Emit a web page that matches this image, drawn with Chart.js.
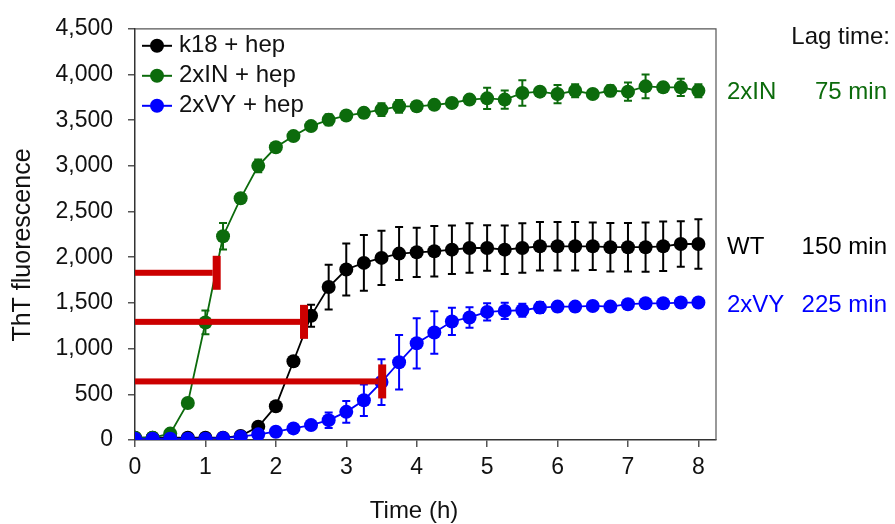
<!DOCTYPE html>
<html>
<head>
<meta charset="utf-8">
<script src="https://cdn.jsdelivr.net/npm/chart.js@4.4.1/dist/chart.umd.min.js"></script>
<style>
  html, body { margin: 0; padding: 0; background: #fff; }
</style>
</head>
<body>
<canvas id="thtChart" width="895" height="524"></canvas>
<script>
// time points (h)
const times = [0, 0.25, 0.5, 0.75, 1, 1.25, 1.5, 1.75, 2, 2.25, 2.5, 2.75, 3, 3.25, 3.5, 3.75,
               4, 4.25, 4.5, 4.75, 5, 5.25, 5.5, 5.75, 6, 6.25, 6.5, 6.75, 7, 7.25, 7.5, 7.75, 8];

const k18 = [25, 25, 25, 25, 25, 25, 45, 145, 370, 862, 1359, 1674, 1866, 1938, 1993, 2040,
             2054, 2065, 2083, 2101, 2101, 2083, 2101, 2120, 2120, 2120, 2120, 2110, 2110, 2110, 2120, 2145, 2145];
const k18Err = [0, 0, 0, 0, 0, 0, 0, 20, 20, 30, 120, 245, 285, 305, 297, 290,
                270, 277, 265, 272, 250, 265, 270, 265, 265, 265, 260, 265, 265, 270, 270, 250, 270];

const twoIN = [25, 25, 70, 405, 1286, 2230, 2645, 3000, 3203, 3326, 3435, 3504, 3551, 3580, 3616, 3652,
               3652, 3668, 3688, 3725, 3739, 3725, 3797, 3812, 3786, 3822, 3786, 3822, 3812, 3870, 3859, 3859, 3822];
const twoINErr = [0, 0, 0, 30, 130, 145, 50, 70, 40, 30, 40, 60, 50, 50, 70, 70,
                  40, 40, 40, 40, 116, 100, 140, 40, 100, 70, 40, 60, 100, 130, 50, 95, 70];

const twoVY = [15, 15, 15, 15, 15, 22, 36, 62, 91, 127, 163, 217, 308, 435, 634, 851,
               1058, 1177, 1297, 1341, 1402, 1413, 1420, 1449, 1460, 1460, 1467, 1460, 1486, 1496, 1496, 1504, 1504];
const twoVYErr = [0, 0, 0, 0, 0, 0, 0, 0, 10, 15, 20, 85, 118, 172, 250, 297,
                  275, 232, 149, 112, 94, 90, 70, 60, 50, 50, 40, 50, 40, 40, 40, 40, 30];

// lag time markers
const lagNames = ['2xIN', 'WT', '2xVY'];
const lagMinutes = ['75 min', '150 min', '225 min'];
const lagEnds = [1.16, 2.40, 3.51];
const lagLevels = [1830, 1293, 641];

const xTicks = [0, 1, 2, 3, 4, 5, 6, 7, 8];
const yTicks = [0, 500, 1000, 1500, 2000, 2500, 3000, 3500, 4000, 4500];

const FONT = "'Liberation Sans', Arial, sans-serif";
const GREEN = '#0c6b0c';
const BLUE = '#0000ff';
const BLACK = '#000000';
const RED = '#cc0000';

const toPoints = vals => vals.map((v, i) => ({ x: times[i], y: v }));

const errorBars = {
    id: 'errorBars',
    beforeDatasetDraw(chart, args) {
        const ds = chart.data.datasets[args.index];
        if (!ds.errors) return;
        const { ctx, scales: { x, y } } = chart;
        ctx.save();
        ctx.strokeStyle = ds.borderColor;
        ctx.lineWidth = 2;
        ds.data.forEach((p, i) => {
            const e = ds.errors[i];
            if (!e) return;
            const px = x.getPixelForValue(p.x);
            const top = y.getPixelForValue(p.y + e);
            const bot = y.getPixelForValue(p.y - e);
            ctx.beginPath();
            ctx.moveTo(px, top); ctx.lineTo(px, bot);
            ctx.moveTo(px - 4, top); ctx.lineTo(px + 4, top);
            ctx.moveTo(px - 4, bot); ctx.lineTo(px + 4, bot);
            ctx.stroke();
        });
        ctx.restore();
    }
};

const plotBox = {
    id: 'plotBox',
    beforeDatasetsDraw(chart) {
        const { ctx, chartArea: a } = chart;
        ctx.save();
        ctx.strokeStyle = '#555';
        ctx.lineWidth = 1.2;
        ctx.beginPath();
        ctx.moveTo(a.left, a.top);
        ctx.lineTo(a.right, a.top);
        ctx.lineTo(a.right, a.bottom);
        ctx.stroke();
        ctx.restore();
    }
};

const lagBars = {
    id: 'lagBars',
    afterDatasetsDraw(chart) {
        const { ctx, chartArea: a, scales: { x, y } } = chart;
        ctx.save();
        ctx.fillStyle = RED;
        lagEnds.forEach((t, i) => {
            const py = y.getPixelForValue(lagLevels[i]);
            const px = x.getPixelForValue(t);
            ctx.fillRect(a.left, py - 3, px - a.left - 4, 6);
            ctx.fillRect(px - 4, py - 17, 8, 34);
        });
        ctx.restore();
    }
};

const labels = {
    id: 'labels',
    afterDraw(chart) {
        const { ctx, chartArea: a } = chart;
        ctx.save();
        ctx.textBaseline = 'middle';

        // legend
        ctx.font = '24px ' + FONT;
        chart.data.datasets.forEach((ds, i) => {
            const cy = a.top + 17 + i * 30;
            ctx.strokeStyle = ds.borderColor;
            ctx.lineWidth = 2;
            ctx.beginPath();
            ctx.moveTo(a.left + 7, cy); ctx.lineTo(a.left + 37, cy);
            ctx.stroke();
            ctx.fillStyle = ds.borderColor;
            ctx.beginPath();
            ctx.arc(a.left + 22, cy, 7, 0, Math.PI * 2);
            ctx.fill();
            ctx.fillStyle = '#111';
            ctx.textAlign = 'left';
            ctx.fillText(ds.label, a.left + 44, cy);
        });

        // lag time annotations
        ctx.fillStyle = '#111';
        ctx.textAlign = 'right';
        ctx.fillText('Lag time:', 890, 37);
        const rowY = [92, 247, 305];
        const rowColors = [GREEN, BLACK, BLUE];
        lagNames.forEach((n, i) => {
            ctx.fillStyle = rowColors[i];
            ctx.textAlign = 'left';
            ctx.fillText(n, 727, rowY[i]);
            ctx.textAlign = 'right';
            ctx.fillText(lagMinutes[i], 887, rowY[i]);
        });

        // axis titles
        ctx.fillStyle = '#111';
        ctx.textAlign = 'center';
        ctx.font = '24px ' + FONT;
        ctx.fillText('Time (h)', 414, 511);
        ctx.translate(23, 245);
        ctx.rotate(-Math.PI / 2);
        ctx.font = '25px ' + FONT;
        ctx.fillText('ThT fluorescence', 0, 0);
        ctx.restore();
    }
};

const series = (label, vals, errs, color, order) => ({
    label: label,
    data: toPoints(vals),
    errors: errs,
    borderColor: color,
    backgroundColor: color,
    borderWidth: 1.8,
    pointRadius: 7,
    pointBorderWidth: 0,
    pointBackgroundColor: color,
    tension: 0,
    order: order
});

new Chart(document.getElementById('thtChart').getContext('2d'), {
    type: 'line',
    data: {
        datasets: [
            series('k18 + hep', k18, k18Err, BLACK, 3),
            series('2xIN + hep', twoIN, twoINErr, GREEN, 2),
            series('2xVY + hep', twoVY, twoVYErr, BLUE, 1)
        ]
    },
    options: {
        responsive: false,
        animation: false,
        layout: { padding: { top: 26, right: 179, bottom: 0, left: 0 } },
        plugins: { legend: { display: false }, tooltip: { enabled: false } },
        scales: {
            x: {
                type: 'linear',
                min: 0,
                max: 8.25,
                afterBuildTicks: s => { s.ticks = xTicks.map(v => ({ value: v })); },
                afterFit: s => { s.height = 84; },
                border: { color: '#333', width: 1.5 },
                grid: { drawOnChartArea: false, tickLength: 7, color: '#555', lineWidth: 1.5 },
                ticks: { font: { family: FONT, size: 23 }, color: '#111', padding: 7 }
            },
            y: {
                min: 0,
                max: 4500,
                afterBuildTicks: s => { s.ticks = yTicks.map(v => ({ value: v })); },
                afterFit: s => { s.width = 135; },
                border: { color: '#333', width: 1.5 },
                grid: { drawOnChartArea: false, tickLength: 7, color: '#555', lineWidth: 1.5 },
                ticks: {
                    font: { family: FONT, size: 23 },
                    color: '#111',
                    padding: 15,
                    callback: v => v.toLocaleString('en-US')
                }
            }
        }
    },
    plugins: [plotBox, errorBars, lagBars, labels]
});
</script>
</body>
</html>
